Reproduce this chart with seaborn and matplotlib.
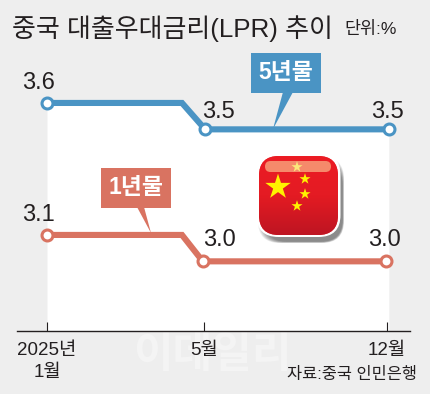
import numpy as np
import matplotlib
matplotlib.use("Agg")
import matplotlib.pyplot as plt
import seaborn as sns
from matplotlib.patches import FancyBboxPatch, Polygon, Rectangle

# 데이터
x_five = [0, 3.44, 4.03, 8.71]
five_year = [3.6, 3.6, 3.5, 3.5]
x_one = [0, 3.44, 3.97, 8.64]
one_year = [3.1, 3.1, 3.0, 3.0]
tick_pos = [0, 4, 8.66]
tick_labels = ["2025년\n1월", "5월", "12월"]

BLUE = "#4A94C4"
RED = "#D97361"
BG = "#EEEEEE"
INK = "#231F20"

sns.set_theme(style="white")
plt.rcParams["font.family"] = ["Liberation Sans", "Noto Sans CJK KR", "DejaVu Sans"]

fig = plt.figure(figsize=(4.3, 3.94), dpi=100, facecolor=BG)
ax = fig.add_axes([17 / 430, (394 - 330.5) / 394, 393 / 430, 330.5 / 394], facecolor="none")
ax.set_xlim(-0.764, 9.25)
ax.set_ylim(2.738, 3.99)

ax.fill_between(x_five, five_year, 2.738, color="white", lw=0, zorder=0)

for xs, ys, col in [(x_five, five_year, BLUE), (x_one, one_year, RED)]:
    sns.lineplot(x=xs, y=ys, color=col, lw=4.4, ax=ax, zorder=2,
                 solid_joinstyle="miter", errorbar=None, sort=False)
    sns.scatterplot(x=[xs[0], xs[2], xs[3]], y=[ys[0], ys[2], ys[3]], s=62, color="white",
                    edgecolor=col, linewidth=2.2, ax=ax, zorder=3, clip_on=False)

# 값 라벨 (점 기준 오프셋, 포인트 단위)
five_offsets = [(-6, 14.5), (9.5, 12.5), (-1, 12.5)]
one_offsets = [(-6, 14), (12, 15.5), (-1, 15.5)]
for xs, ys, offs in [(x_five, five_year, five_offsets), (x_one, one_year, one_offsets)]:
    for i, off in zip([0, 2, 3], offs):
        ax.annotate(f"{ys[i]:.1f}", (xs[i], ys[i]), xytext=off, textcoords="offset points",
                    ha="center", va="center", fontsize=17, color=INK, zorder=4)

sns.despine(ax=ax, left=True, top=True, right=True)
ax.spines["bottom"].set_color(INK)
ax.spines["bottom"].set_linewidth(1.0)
ax.set_yticks([])
ax.set_xticks(tick_pos)
ax.set_xticklabels(tick_labels, fontsize=13.5, color=INK, linespacing=1.45)
ax.tick_params(axis="x", direction="in", length=6.5, width=0.8, color=INK, pad=8, bottom=True)

# 픽셀 좌표용 덮개 축
over = fig.add_axes([0, 0, 1, 1], facecolor="none")
over.set_xlim(0, 430)
over.set_ylim(394, 0)
over.axis("off")

over.text(12, 29, "중국 대출우대금리(LPR) 추이", fontsize=18.7, color=INK, va="center", ha="left",
          fontweight="medium")
over.text(344, 29, "단위:%", fontsize=12.5, color=INK, va="center", ha="left")
over.text(417, 375, "자료:중국 인민은행", fontsize=11.8, color=INK, va="center", ha="right")
ax.text(212, 356, "이데일리", fontsize=31, color="#F4F4F4", va="center", ha="center",
        fontweight="bold", zorder=0, transform=over.transData)


def callout(x0, y0, x1, y1, pointer, col, label):
    over.add_patch(Rectangle((x0, y0), x1 - x0, y1 - y0, color=col, lw=0, zorder=5))
    over.add_patch(Polygon(pointer, closed=True, color=col, lw=0, zorder=5))
    over.text((x0 + x1) / 2, (y0 + y1) / 2 - 1, label, color="white", fontsize=16.5,
              fontweight="bold", ha="center", va="center", zorder=6)


callout(251, 53, 321, 93, [(283, 92), (293, 92), (273, 129)], BLUE, "5년물")
callout(101, 168, 171, 208, [(137, 207), (144, 207), (151, 233)], RED, "1년물")

# 국기 아이콘
for k in range(8):
    over.add_patch(FancyBboxPatch((258 + k, 157 + k), 86 - k * 1.2, 86 - k * 1.2,
                                  boxstyle="round,pad=0,rounding_size=22", fc="#444444",
                                  ec="none", alpha=0.11, zorder=6))
over.add_patch(FancyBboxPatch((256.5, 153), 84, 84, boxstyle="round,pad=0,rounding_size=22",
                              fc="white", ec="none", zorder=7))
flag_box = FancyBboxPatch((259, 156), 79, 79, boxstyle="round,pad=0,rounding_size=20",
                          fc="#E41B23", ec="none", zorder=8, transform=over.transData)
over.add_patch(flag_box)
grad = np.linspace(0, 1, 64).reshape(-1, 1)
cmap = matplotlib.colors.LinearSegmentedColormap.from_list("flag", ["#EC1C24", "#E41B23", "#BE1522"])
im = over.imshow(grad, extent=(259, 338, 235, 156), cmap=cmap, aspect="auto", zorder=8.5)
im.set_clip_path(flag_box)
over.set_xlim(0, 430)
over.set_ylim(394, 0)
over.add_patch(FancyBboxPatch((265, 161), 66, 11, boxstyle="round,pad=0,rounding_size=5.5",
                              fc="#F58A6B", ec="none", zorder=9))
star_x = [278, 297, 305, 305, 297]
star_y = [187, 167, 179, 194, 206]
star_s = [370, 70, 70, 70, 70]
star_c = ["#FFF200", "#FBE77A", "#FFF200", "#FFF200", "#FFF200"]
over.scatter(star_x, star_y, s=star_s, c=star_c, marker="*", linewidths=0, zorder=10)

fig.savefig("out.png", dpi=100, facecolor=BG)
